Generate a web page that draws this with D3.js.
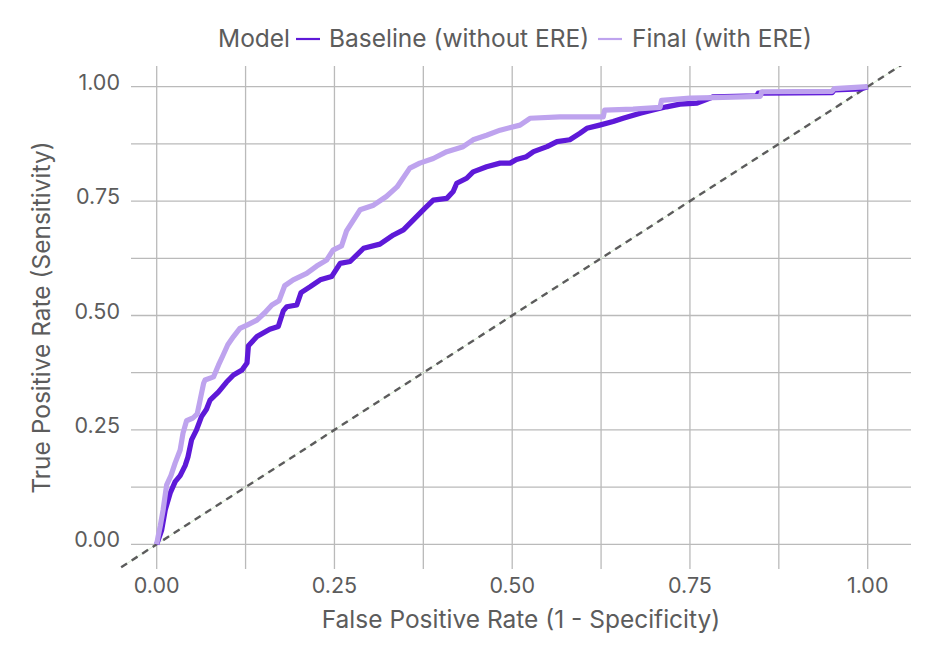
<!DOCTYPE html>
<html>
<head>
<meta charset="utf-8">
<script src="https://cdn.jsdelivr.net/npm/d3@7"></script>
<style>
  body { margin: 0; background: #fff; }
  svg text { font-family: Inter, "Noto Sans", sans-serif; fill: #5c5c5c; }
</style>
</head>
<body>
<div id="chart"></div>
<script>
// ROC points (false positive rate, true positive rate)
var baselineFpr = [0, 0.007, 0.012, 0.019, 0.026, 0.033, 0.040, 0.044, 0.049, 0.056, 0.063, 0.070, 0.075, 0.087, 0.098,
  0.108, 0.120, 0.127, 0.129, 0.141, 0.159, 0.171, 0.178, 0.183, 0.197, 0.203, 0.216, 0.230, 0.246, 0.258, 0.272,
  0.291, 0.314, 0.333, 0.347, 0.361, 0.377, 0.389, 0.408, 0.417, 0.422, 0.436, 0.445, 0.464, 0.483, 0.497, 0.506,
  0.520, 0.530, 0.549, 0.563, 0.581, 0.595, 0.605, 0.623, 0.642, 0.656, 0.680, 0.698, 0.717, 0.736, 0.760, 0.783,
  0.844, 0.846, 0.950, 0.953, 0.990, 1];
var baselineTpr = [0, 0.031, 0.075, 0.112, 0.137, 0.150, 0.172, 0.191, 0.228, 0.250, 0.279, 0.295, 0.315, 0.333, 0.354,
  0.370, 0.381, 0.396, 0.434, 0.454, 0.470, 0.476, 0.510, 0.519, 0.523, 0.550, 0.563, 0.578, 0.585, 0.614, 0.618,
  0.647, 0.656, 0.676, 0.687, 0.709, 0.734, 0.752, 0.756, 0.771, 0.789, 0.800, 0.814, 0.825, 0.833, 0.833, 0.841,
  0.847, 0.858, 0.869, 0.880, 0.884, 0.898, 0.909, 0.916, 0.924, 0.931, 0.942, 0.949, 0.956, 0.962, 0.964, 0.978,
  0.980, 0.986, 0.987, 0.993, 0.995, 1];

var finalFpr = [0, 0.002, 0.005, 0.009, 0.014, 0.020, 0.026, 0.033, 0.037, 0.042, 0.051, 0.057, 0.061, 0.066, 0.068,
  0.080, 0.087, 0.093, 0.100, 0.108, 0.117, 0.127, 0.141, 0.152, 0.162, 0.172, 0.180, 0.192, 0.211, 0.225, 0.239,
  0.248, 0.260, 0.267, 0.286, 0.305, 0.323, 0.338, 0.356, 0.370, 0.389, 0.408, 0.431, 0.445, 0.464, 0.483, 0.511,
  0.525, 0.567, 0.628, 0.630, 0.670, 0.708, 0.710, 0.750, 0.783, 0.849, 0.851, 0.950, 0.953, 1];
var finalTpr = [0, 0.017, 0.040, 0.075, 0.130, 0.150, 0.178, 0.206, 0.243, 0.270, 0.276, 0.285, 0.315, 0.352, 0.359,
  0.366, 0.392, 0.412, 0.436, 0.454, 0.472, 0.479, 0.490, 0.506, 0.523, 0.532, 0.565, 0.578, 0.592, 0.608, 0.621,
  0.643, 0.652, 0.685, 0.731, 0.741, 0.760, 0.781, 0.822, 0.833, 0.843, 0.858, 0.869, 0.884, 0.894, 0.905, 0.916,
  0.931, 0.934, 0.934, 0.949, 0.951, 0.955, 0.970, 0.975, 0.976, 0.979, 0.989, 0.990, 0.996, 1];

var tickValues = [0, 0.25, 0.5, 0.75, 1];
var gridValues = [0, 0.125, 0.25, 0.375, 0.5, 0.625, 0.75, 0.875, 1];
var seriesNames = ['Baseline (without ERE)', 'Final (with ERE)'];
var seriesColors = ['#5e19d8', '#bea3ee'];

(function () {
  var width = 940, height = 671;
  var panel = { left: 131, right: 911, top: 66, bottom: 569 };

  var x = d3.scaleLinear().domain([0, 1]).range([156.7, 867.7]);
  var y = d3.scaleLinear().domain([0, 1]).range([544.3, 86.7]);

  var svg = d3.select('#chart').append('svg')
    .attr('width', width)
    .attr('height', height);

  svg.append('defs').append('clipPath').attr('id', 'panel-clip')
    .append('rect')
    .attr('x', panel.left - 12).attr('y', panel.top)
    .attr('width', panel.right - panel.left + 12).attr('height', panel.bottom - panel.top);

  // grid
  var grid = svg.append('g').attr('class', 'grid');
  grid.selectAll('.vgrid').data(gridValues).enter().append('line')
    .attr('class', 'vgrid')
    .attr('x1', function (d) { return x(d); }).attr('x2', function (d) { return x(d); })
    .attr('y1', panel.top).attr('y2', panel.bottom)
    .attr('stroke', '#bababa').attr('stroke-width', 1.3);
  grid.selectAll('.hgrid').data(gridValues).enter().append('line')
    .attr('class', 'hgrid')
    .attr('x1', panel.left).attr('x2', panel.right)
    .attr('y1', function (d) { return y(d); }).attr('y2', function (d) { return y(d); })
    .attr('stroke', '#bababa').attr('stroke-width', 1.3);

  // chance line
  var diag = [-0.05, 1.052];
  var plot = svg.append('g').attr('clip-path', 'url(#panel-clip)');
  plot.append('line')
    .attr('x1', x(diag[0])).attr('y1', y(diag[0]))
    .attr('x2', x(diag[1])).attr('y2', y(diag[1]))
    .attr('stroke', '#dcefd6').attr('stroke-width', 1);
  plot.append('line')
    .attr('x1', x(diag[0])).attr('y1', y(diag[0]))
    .attr('x2', x(diag[1])).attr('y2', y(diag[1]))
    .attr('stroke', '#5c5c5c').attr('stroke-width', 2.4)
    .attr('stroke-dasharray', '7,5.5');

  // ROC curves
  var line = d3.line()
    .x(function (d) { return x(d[0]); })
    .y(function (d) { return y(d[1]); });
  var series = [
    d3.zip(baselineFpr, baselineTpr),
    d3.zip(finalFpr, finalTpr)
  ];
  plot.selectAll('.roc').data(series).enter().append('path')
    .attr('class', 'roc')
    .attr('d', line)
    .attr('fill', 'none')
    .attr('stroke', function (d, i) { return seriesColors[i]; })
    .attr('stroke-width', 5.2)
    .attr('stroke-linejoin', 'round')
    .attr('stroke-linecap', 'butt');

  // tick labels
  svg.selectAll('.xtick').data(tickValues).enter().append('text')
    .attr('class', 'xtick')
    .attr('x', function (d) { return x(d); })
    .attr('y', 593)
    .attr('text-anchor', 'middle')
    .style('font-size', '21.5px')
    .text(d3.format('.2f'));
  svg.selectAll('.ytick').data(tickValues).enter().append('text')
    .attr('class', 'ytick')
    .attr('x', 120)
    .attr('y', function (d) { return y(d) + 3; })
    .attr('text-anchor', 'end')
    .style('font-size', '21.5px')
    .text(d3.format('.2f'));

  // axis titles
  svg.append('text')
    .attr('x', (panel.left + panel.right) / 2)
    .attr('y', 628)
    .attr('text-anchor', 'middle')
    .style('font-size', '24.5px')
    .text('False Positive Rate (1 - Specificity)');
  svg.append('text')
    .attr('transform', 'translate(50,' + ((panel.top + panel.bottom) / 2) + ') rotate(-90)')
    .attr('text-anchor', 'middle')
    .style('font-size', '24.5px')
    .text('True Positive Rate (Sensitivity)');

  // legend
  var legend = svg.append('g').attr('class', 'legend');
  legend.append('text').attr('x', 218).attr('y', 47).style('font-size', '24.5px').text('Model');
  var keyX = [296, 598];
  var labelX = [329, 632];
  seriesNames.forEach(function (name, i) {
    legend.append('line')
      .attr('x1', keyX[i]).attr('x2', keyX[i] + 24)
      .attr('y1', 39).attr('y2', 39)
      .attr('stroke', seriesColors[i]).attr('stroke-width', 2.2);
    legend.append('text').attr('x', labelX[i]).attr('y', 47).style('font-size', '24.5px').text(name);
  });
})();
</script>
</body>
</html>
